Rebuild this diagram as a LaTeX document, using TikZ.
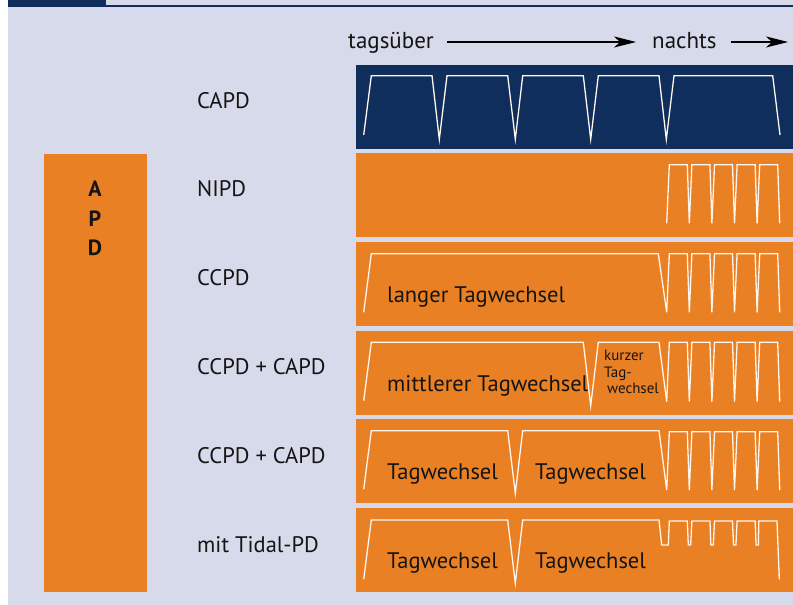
\documentclass[tikz,border=0pt]{standalone}
\usepackage{fontspec}
\setmainfont{PT Sans}
\usetikzlibrary{arrows.meta,calc}
\definecolor{navy}{HTML}{0F2E5C}
\definecolor{apdorange}{HTML}{EA8024}
\definecolor{lav}{HTML}{D7DAEA}
\definecolor{wline}{HTML}{FFF6EE}
\definecolor{ink}{HTML}{141414}
\begin{document}
\begin{tikzpicture}[x=1pt,y=-1pt,
  panel/.style={inner sep=0pt, outer sep=0pt, minimum width=437pt, minimum height=84pt, anchor=north west},
  lbl/.style={anchor=base west, inner sep=0pt, font=\fontsize{22.5}{26}\selectfont, text=ink},
  hdr/.style={anchor=base west, inner sep=0pt, font=\fontsize{23}{26}\selectfont, text=ink},
  small/.style={anchor=base west, inner sep=0pt, font=\fontsize{15}{16.3}\selectfont, text=ink, align=left},
  apdl/.style={anchor=base, inner sep=0pt, font=\fontsize{22}{25}\selectfont\bfseries, text=ink},
  wave/.style={draw=wline, line width=1.3pt, line join=miter},
  arr/.style={draw=black, line width=1.3pt, -{Stealth[length=22pt,width=11pt,inset=6pt]}},
]
\useasboundingbox (0,0) rectangle (793,605);
% background
\fill[white] (0,0) rectangle (793,605);
\fill[lav] (8,0) rectangle (793,605);
% cut-off title bar
\fill[navy] (8,0) rectangle (106,7.3);
\fill[navy] (106,5) rectangle (793,7.3);

% header
\node[hdr] (tags) at (348,48) {tagsüber};
\node[hdr] (nachts) at (652,48) {nachts};
\coordinate (nend) at (788,42);
\draw[arr] ($(tags.base east)+(13,-6)$) -- ($(nachts.base west)+(-16,-6)$);
\draw[arr] ($(nachts.base east)+(14,-6)$) -- (nend);

% APD box
\node[fill=apdorange, inner sep=0pt, minimum width=103pt, minimum height=438pt, anchor=north west] (apd) at (44,154) {};
\node[apdl] (a1) at (95,196) {A};
\node[apdl] (a2) at (95,226) {P};
\node[apdl] (a3) at (95,255.7) {D};

% panels
\node[panel, fill=navy] (p1) at (356,65) {};
\node[panel, fill=apdorange] (p2) at (356,153) {};
\node[panel, fill=apdorange] (p3) at (356,242) {};
\node[panel, fill=apdorange] (p4) at (356,331) {};
\node[panel, fill=apdorange] (p5) at (356,419) {};
\node[panel, fill=apdorange] (p6) at (356,508) {};

% left labels
\node[lbl] (l1) at (197,108.3) {CAPD};
\node[lbl] (l2) at (197,196.7) {NIPD};
\node[lbl] (l3) at (197,285.7) {CCPD};
\node[lbl] (l4) at (197,374.7) {CCPD + CAPD};
\node[lbl] (l5) at (197,463.7) {CCPD + CAPD};
\node[lbl] (l6) at (197,552) {mit Tidal-PD};

% waveforms
\draw[wave] (363.7,135) -- (371.3,75.7) -- (432,75.7) -- (439.3,139.3) -- (447,75.7) -- (507.7,75.7) -- (515.3,139.3) -- (522.7,75.7) -- (583.3,75.7) -- (590.7,139.3) -- (598.3,75.7) -- (659,75.7) -- (666.3,139.3) -- (674,75.7) -- (772.7,75.7) -- (780,135);

\draw[wave] (666.7,223.3) \foreach \i in {0,...,4}{ -- ({669.3+22.6*\i},164.7) -- ({687.3+22.6*\i},164.7) -- ({689.3+22.6*\i},223.3)};

\draw[wave] (363.7,312.3) -- (371.3,253.7) -- (658.3,253.7) -- (666.7,312.3) \foreach \i in {0,...,4}{ -- ({669.3+22.6*\i},253.7) -- ({687.3+22.6*\i},253.7) -- ({689.3+22.6*\i},312.3)};

\draw[wave] (363.7,400.7) -- (371.3,342.3) -- (583.3,342.3) -- (590.7,405.7) -- (598.3,342.3) -- (659,342.3) -- (666.7,401.7) \foreach \i in {0,...,4}{ -- ({669.3+22.6*\i},342.3) -- ({687.3+22.6*\i},342.3) -- ({689.3+22.6*\i},401.7)};

\draw[wave] (363.7,489.3) -- (371.3,430.7) -- (507.7,430.7) -- (515.3,493.3) -- (522.7,430.7) -- (659,430.7) -- (666.7,490) \foreach \i in {0,...,4}{ -- ({669.3+22.6*\i},431.7) -- ({687.3+22.6*\i},431.7) -- ({689.3+22.6*\i},490)};

\draw[wave] (363.7,579.3) -- (371.3,520) -- (507.7,520) -- (515.3,583.3) -- (522.7,520) -- (659,520) -- (661.7,545) -- (668.3,545) \foreach \i in {0,...,3}{ -- ({669.3+22.6*\i},521) -- ({687.3+22.6*\i},521) -- ({688.3+22.6*\i},545) -- ({690.7+22.6*\i},545)} -- (758.7,521) -- (777,521) -- (779.3,579.3);

% panel texts
\node[lbl] (t3) at (387,302) {langer Tagwechsel};
\node[lbl] (t4) at (387,391) {mittlerer Tagwechsel};
\node[small] (t4b) at (604,393.3) {kurzer\\Tag-\\\hspace*{3pt}wechsel};
\node[lbl] (t5a) at (387,479.3) {Tagwechsel};
\node[lbl] (t5b) at (535,479.3) {Tagwechsel};
\node[lbl] (t6a) at (387,568.3) {Tagwechsel};
\node[lbl] (t6b) at (535,568.3) {Tagwechsel};
\end{tikzpicture}
\end{document}
